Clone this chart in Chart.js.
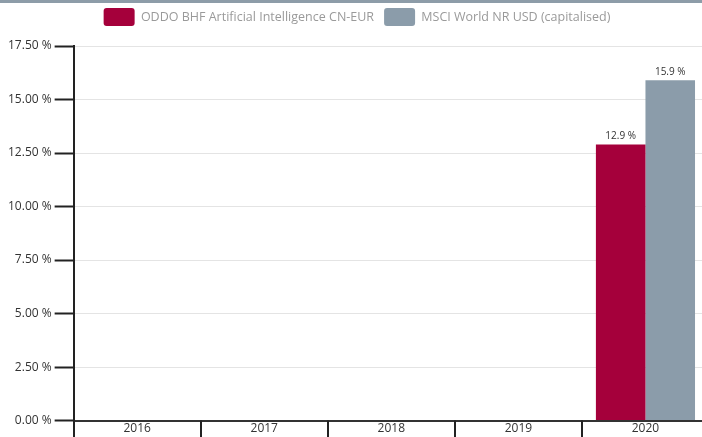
<!DOCTYPE html>
<html>
<head>
<meta charset="utf-8">
<script src="https://cdn.jsdelivr.net/npm/chart.js@4.4.1/dist/chart.umd.min.js"></script>
<style>
    html, body { margin: 0; padding: 0; background: #fff; overflow: hidden; }
    body { width: 702px; height: 437px; position: relative; }
    #top-bar { position: absolute; left: 0; top: 0; width: 702px; height: 3px; background: #8d9ca8; z-index: 2; }
    #chart-container { position: absolute; left: 0; top: -2px; width: 709px; height: 439px; }
</style>
</head>
<body>
<div id="top-bar"></div>
<div id="chart-container"><canvas id="perfChart"></canvas></div>
<script>
const years = ['2016', '2017', '2018', '2019', '2020'];
const fundValues = [null, null, null, null, 12.9];
const indexValues = [null, null, null, null, 15.9];
const yTicks = [0, 2.5, 5, 7.5, 10, 12.5, 15, 17.5];

const seriesNames = ['ODDO BHF Artificial Intelligence CN-EUR', 'MSCI World NR USD (capitalised)'];

// Value labels above each bar
const valueLabelPlugin = {
    id: 'valueLabels',
    afterDatasetsDraw: (chart) => {
        const ctx = chart.ctx;
        ctx.save();
        ctx.font = '10px "Open Sans"';
        ctx.fillStyle = '#333';
        ctx.textAlign = 'center';
        ctx.textBaseline = 'bottom';
        chart.data.datasets.forEach((ds, i) => {
            const meta = chart.getDatasetMeta(i);
            meta.data.forEach((bar, j) => {
                const v = ds.data[j];
                if (v === null || v === undefined) return;
                ctx.fillText(v.toFixed(1) + ' %', bar.x, bar.y - 3);
            });
        });
        ctx.restore();
    }
};

// Category separators hanging below the x axis
const categoryTicksPlugin = {
    id: 'categoryTicks',
    afterDraw: (chart) => {
        const xAxis = chart.scales.x;
        const n = xAxis.ticks.length;
        const step = xAxis.width / n;
        const ctx = chart.ctx;
        ctx.save();
        ctx.lineWidth = 2;
        ctx.strokeStyle = '#222';
        ctx.beginPath();
        for (let i = 0; i <= n; i++) {
            const x = Math.round(xAxis.left + i * step);
            ctx.moveTo(x, chart.chartArea.bottom);
            ctx.lineTo(x, chart.height);
        }
        ctx.stroke();
        ctx.restore();
    }
};

// Fixed legend height so the plot starts where the reference does
const legendHeightPlugin = {
    id: 'legendHeight',
    beforeInit: (chart) => {
        const origFit = chart.legend.fit;
        chart.legend.fit = function () {
            origFit.bind(chart.legend)();
            this.height = 48;
        };
    }
};

const ctx = document.getElementById('perfChart').getContext('2d');
new Chart(ctx, {
    type: 'bar',
    data: {
        labels: years,
        datasets: [{
            label: seriesNames[0],
            data: fundValues,
            backgroundColor: '#a5003b',
            categoryPercentage: 0.78,
            barPercentage: 1
        }, {
            label: seriesNames[1],
            data: indexValues,
            backgroundColor: '#8b9caa',
            categoryPercentage: 0.78,
            barPercentage: 1
        }]
    },
    plugins: [valueLabelPlugin, categoryTicksPlugin, legendHeightPlugin],
    options: {
        responsive: true,
        maintainAspectRatio: false,
        animation: false,
        layout: { padding: { left: 5, right: 0, top: 0, bottom: 0 } },
        plugins: {
            legend: {
                position: 'top',
                labels: {
                    boxWidth: 31,
                    boxHeight: 18,
                    useBorderRadius: true,
                    borderRadius: 3,
                    padding: 10,
                    color: '#9a9a9a',
                    font: { family: '"Open Sans"', size: 12.5 }
                }
            },
            tooltip: { enabled: false }
        },
        scales: {
            x: {
                grid: {
                    offset: true,
                    drawOnChartArea: false,
                    drawTicks: false
                },
                border: { color: '#333', width: 2 },
                ticks: {
                    color: '#333',
                    padding: 1,
                    font: { family: '"Open Sans"', size: 12 }
                }
            },
            y: {
                min: 0,
                max: 17.5,
                afterBuildTicks: (axis) => {
                    axis.ticks = yTicks.map(v => ({ value: v }));
                },
                grid: {
                    color: '#e4e4e4',
                    lineWidth: 1,
                    tickLength: 19,
                    tickColor: '#222',
                    tickWidth: 2
                },
                border: { color: '#222', width: 2 },
                ticks: {
                    color: '#333',
                    padding: 3,
                    font: { family: '"Open Sans"', size: 12 },
                    callback: (v) => Number(v).toFixed(2) + ' %'
                }
            }
        }
    }
});
</script>
</body>
</html>
